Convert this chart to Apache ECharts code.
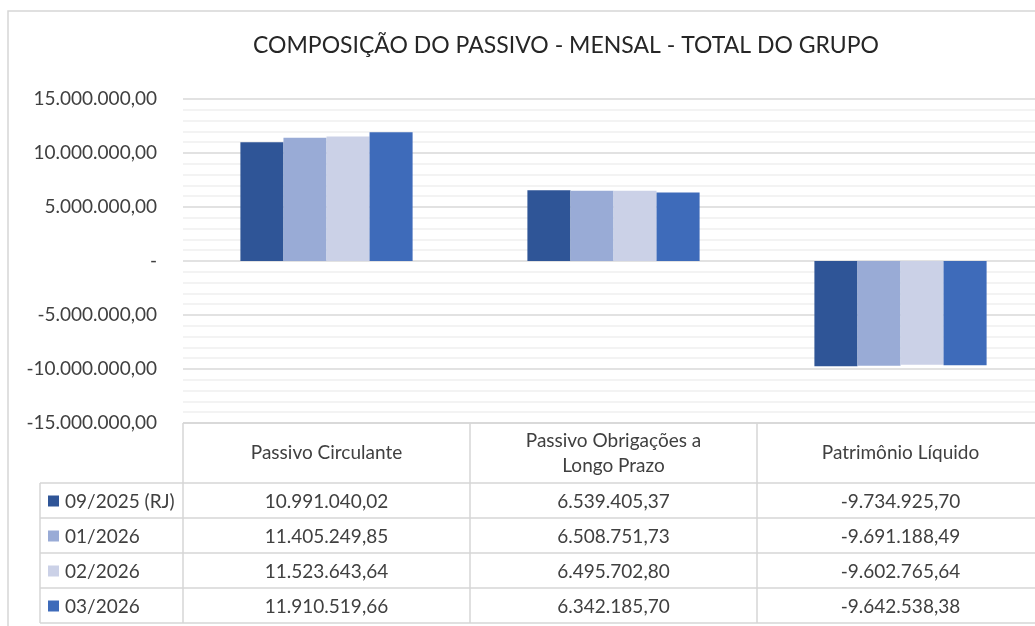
<!DOCTYPE html>
<html>
<head>
<meta charset="utf-8">
<script src="https://cdn.jsdelivr.net/npm/echarts@6/dist/echarts.min.js"></script>
<style>
  html, body { margin: 0; padding: 0; background: #fff; overflow: hidden; }
  #chart { width: 1046px; height: 626px; }
</style>
</head>
<body>
<div id="chart"></div>
<script>
const categories = ['Passivo Circulante', 'Passivo Obrigações a\nLongo Prazo', 'Patrimônio Líquido'];
const seriesNames = ['09/2025 (RJ)', '01/2026', '02/2026', '03/2026'];
const serie0925 = [10991040.02, 6539405.37, -9734925.70];
const serie0126 = [11405249.85, 6508751.73, -9691188.49];
const serie0226 = [11523643.64, 6495702.80, -9602765.64];
const serie0326 = [11910519.66, 6342185.70, -9642538.38];
const yTicks = { min: -15000000, max: 15000000, interval: 5000000 };

const colors = ['#2f5597', '#99abd6', '#cbd1e7', '#3e6bba'];
const allSeries = [serie0925, serie0126, serie0226, serie0326];
const FONT = 'Lato, "Open Sans", sans-serif';
const TEXT = '#404040';
const LINE = '#d6d6d6';

// formato brasileiro 1.234.567,89
function fmtBR(v) {
  const neg = v < 0;
  const parts = Math.abs(v).toFixed(2).split('.');
  const int = parts[0].replace(/\B(?=(\d{3})+(?!\d))/g, '.');
  return (neg ? '-' : '') + int + ',' + parts[1];
}

const gridLeft = 183, gridTop = 99, gridHeight = 324, colWidth = 287;

const chart = echarts.init(document.getElementById('chart'), null, { renderer: 'canvas' });

const option = {
  animation: false,
  color: colors,
  title: {
    text: 'COMPOSIÇÃO DO PASSIVO - MENSAL - TOTAL DO GRUPO',
    left: 561,
    top: 29,
    textAlign: 'center',
    textStyle: { fontFamily: FONT, fontSize: 23, fontWeight: 'normal', color: '#262626' }
  },
  grid: { left: gridLeft, top: gridTop, width: colWidth * categories.length, height: gridHeight },
  xAxis: {
    type: 'category',
    data: categories,
    axisLine: { show: false },
    axisTick: { show: false },
    axisLabel: { show: false },
    splitLine: { show: false }
  },
  yAxis: {
    type: 'value',
    min: yTicks.min,
    max: yTicks.max,
    interval: yTicks.interval,
    axisLine: { show: false },
    axisTick: { show: false },
    axisLabel: {
      margin: 26,
      fontFamily: FONT,
      fontSize: 19,
      color: TEXT,
      formatter: v => (v === 0 ? '-' : fmtBR(v))
    },
    splitLine: { lineStyle: { color: '#d9d9d9', width: 1.5 } },
    minorTick: { show: false, splitNumber: 5 },
    minorSplitLine: { show: true, lineStyle: { color: '#f0f0f0', width: 1.5 } }
  },
  series: seriesNames.map((name, i) => ({
    name: name,
    type: 'bar',
    data: allSeries[i],
    barGap: '0%',
    barCategoryGap: '40%',
    itemStyle: { color: colors[i] }
  }))
};
chart.setOption(option);

// tabela de dados abaixo do gráfico
const headerH = 60, rowH = 35, legendLeft = 40;
const tableTop = gridTop + gridHeight;
const rowsTop = tableTop + headerH;
const tableBottom = rowsTop + rowH * seriesNames.length;
const rightEdge = gridLeft + colWidth * categories.length;
const g = [];

// moldura do gráfico
g.push({ type: 'rect', shape: { x: 8, y: 11, width: 1100, height: 700 }, style: { fill: 'none', stroke: LINE, lineWidth: 1.5 } });

function hline(y, x1, x2) {
  g.push({ type: 'line', shape: { x1: x1, y1: y, x2: x2, y2: y }, style: { stroke: LINE, lineWidth: 1.5 } });
}
function vline(x, y1, y2) {
  g.push({ type: 'line', shape: { x1: x, y1: y1, x2: x, y2: y2 }, style: { stroke: LINE, lineWidth: 1.5 } });
}

hline(tableTop, gridLeft, rightEdge);
for (let r = 0; r <= seriesNames.length; r++) hline(rowsTop + r * rowH, legendLeft, rightEdge);
vline(legendLeft, rowsTop, tableBottom);
for (let c = 0; c <= categories.length; c++) vline(gridLeft + c * colWidth, tableTop, tableBottom);

categories.forEach((cat, c) => {
  const cx = chart.convertToPixel({ xAxisIndex: 0 }, c);
  g.push({
    type: 'text',
    style: {
      text: cat, x: cx, y: tableTop + headerH / 2,
      align: 'center', verticalAlign: 'middle', lineHeight: 25,
      font: '19px ' + FONT, fill: TEXT
    }
  });
  seriesNames.forEach((s, r) => {
    g.push({
      type: 'text',
      style: {
        text: fmtBR(allSeries[r][c]), x: cx, y: rowsTop + r * rowH + rowH / 2 + 1,
        align: 'center', verticalAlign: 'middle',
        font: '19px ' + FONT, fill: TEXT
      }
    });
  });
});

seriesNames.forEach((s, r) => {
  const cy = rowsTop + r * rowH + rowH / 2;
  g.push({ type: 'rect', shape: { x: 48, y: cy - 5, width: 11, height: 11 }, style: { fill: colors[r] } });
  g.push({
    type: 'text',
    style: { text: s, x: 65, y: cy + 1, align: 'left', verticalAlign: 'middle', font: '19px ' + FONT, fill: TEXT }
  });
});

chart.setOption({ graphic: { elements: g } });
</script>
</body>
</html>
